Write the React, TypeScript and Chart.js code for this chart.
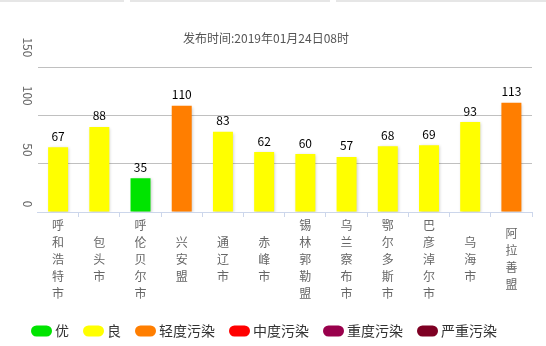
import React, { useEffect, useRef } from "react";
import { Chart, registerables } from "chart.js";

Chart.register(...registerables);

const cities: string[] = ["呼和浩特市", "包头市", "呼伦贝尔市", "兴安盟", "通辽市", "赤峰市", "锡林郭勒盟", "乌兰察布市", "鄂尔多斯市", "巴彦淖尔市", "乌海市", "阿拉善盟"];
const aqiValues: number[] = [67, 88, 35, 110, 83, 62, 60, 57, 68, 69, 93, 113];
const yTicks: number[] = [0, 50, 100, 150];
const levelNames: string[] = ["优", "良", "轻度污染", "中度污染", "重度污染", "严重污染"];
const levelColors: string[] = ["#00e400", "#ffff00", "#ff7e00", "#ff0000", "#99004c", "#7e0023"];
const levelLimits: number[] = [50, 100, 150, 200, 300, 500];
const titleText = "发布时间:2019年01月24日08时";

const FONT = '"Noto Sans CJK SC", "DejaVu Sans", sans-serif';

function colorFor(v: number): string {
  for (let i = 0; i < levelLimits.length; i++) if (v <= levelLimits[i]) return levelColors[i];
  return levelColors[levelColors.length - 1];
}

const decorPlugin = {
  id: "decor",
  beforeDatasetsDraw(chart: any) {
    const ctx = chart.ctx;
    ctx.save();
    ctx.shadowColor = "rgba(0,0,0,0.22)";
    ctx.shadowBlur = 3;
    ctx.shadowOffsetX = 1;
    ctx.shadowOffsetY = 1;
  },
  afterDatasetsDraw(chart: any) {
    const ctx = chart.ctx;
    ctx.restore();
    const xs = chart.scales.x;
    const ys = chart.scales.y;
    // value labels
    const meta = chart.getDatasetMeta(0);
    ctx.save();
    ctx.font = `12px ${FONT}`;
    ctx.fillStyle = "#000";
    ctx.textAlign = "center";
    ctx.textBaseline = "middle";
    meta.data.forEach((bar: any, i: number) => {
      ctx.fillText(String(aqiValues[i]), bar.x, bar.y - 11);
    });
    // y tick labels (rotated)
    ctx.fillStyle = "#666";
    ctx.textAlign = "right";
    yTicks.forEach((t) => {
      const py = ys.getPixelForValue(t);
      const w = ctx.measureText(String(t)).width;
      ctx.save();
      ctx.translate(28, py - 2 - w * 0.38);
      ctx.rotate(Math.PI / 2);
      ctx.fillText(String(t), 0, 0);
      ctx.restore();
    });
    // x labels (vertical characters)
    ctx.textAlign = "center";
    ctx.fillStyle = "#666";
    const lh = 17;
    cities.forEach((c, i) => {
      const px = xs.getPixelForValue(i);
      const chars = Array.from(c);
      const start = 259 - ((chars.length - 1) * lh) / 2;
      chars.forEach((ch, j) => ctx.fillText(ch, px, start + j * lh));
    });
    // legend
    ctx.font = `14px ${FONT}`;
    const boxW = 21, boxH = 11, gapText = 3, gapItem = 14;
    const widths = levelNames.map((n) => boxW + gapText + ctx.measureText(n).width);
    const total = widths.reduce((a, b) => a + b, 0) + gapItem * (levelNames.length - 1);
    let x = 264 - total / 2;
    const cy = 331;
    levelNames.forEach((n, i) => {
      ctx.fillStyle = levelColors[i];
      ctx.beginPath();
      (ctx as any).roundRect(x, cy - boxH / 2, boxW, boxH, 5.5);
      ctx.fill();
      ctx.fillStyle = "#333";
      ctx.textAlign = "left";
      ctx.fillText(n, x + boxW + gapText, cy);
      x += widths[i] + gapItem;
    });
    ctx.restore();
  },
};

export default function App() {
  const ref = useRef<HTMLCanvasElement | null>(null);
  useEffect(() => {
    if (!ref.current) return;
    const chart = new Chart(ref.current, {
      type: "bar",
      data: {
        labels: cities,
        datasets: [
          {
            data: aqiValues,
            backgroundColor: aqiValues.map(colorFor),
            borderWidth: 0,
            categoryPercentage: 1,
            barPercentage: 0.485,
          },
        ],
      },
      options: {
        responsive: false,
        animation: false,
        layout: { padding: { left: 0, right: 14, top: 0, bottom: 0 } },
        plugins: {
          legend: { display: false },
          tooltip: { enabled: false },
          title: {
            display: true,
            text: titleText,
            color: "#555",
            font: { size: 12, family: FONT, weight: "normal", lineHeight: 1.2 },
            padding: { top: 31, bottom: 21.6 },
          },
        },
        scales: {
          x: {
            ticks: { display: false },
            grid: {
              offset: true,
              drawOnChartArea: false,
              drawTicks: true,
              tickLength: 5,
              color: (c: any) => (c.index === 0 ? "rgba(0,0,0,0)" : "#ccd6eb"),
            },
            border: { display: true, color: "#ccd6eb", width: 1 },
            afterFit: (s: any) => {
              s.height = 134;
            },
          },
          y: {
            min: 0,
            max: 150,
            ticks: { display: false, stepSize: 50 },
            grid: { color: "#c0c0c0", drawTicks: false },
            border: { display: false },
            afterFit: (s: any) => {
              s.width = 37.5;
            },
          },
        },
      },
      plugins: [decorPlugin],
    });
    return () => chart.destroy();
  }, []);
  const bar = (left: number, width: number) => (
    <div style={{ position: "absolute", left, top: 0, width, height: 2, background: "#e6e6e6" }} />
  );
  return (
    <div style={{ position: "absolute", left: 0, top: 0, width: 546, height: 346, background: "#fff" }}>
      {bar(0, 124)}
      {bar(130, 200)}
      {bar(336, 210)}
      <canvas ref={ref} width={546} height={346} style={{ position: "absolute", left: 0, top: 0 }} />
    </div>
  );
}
